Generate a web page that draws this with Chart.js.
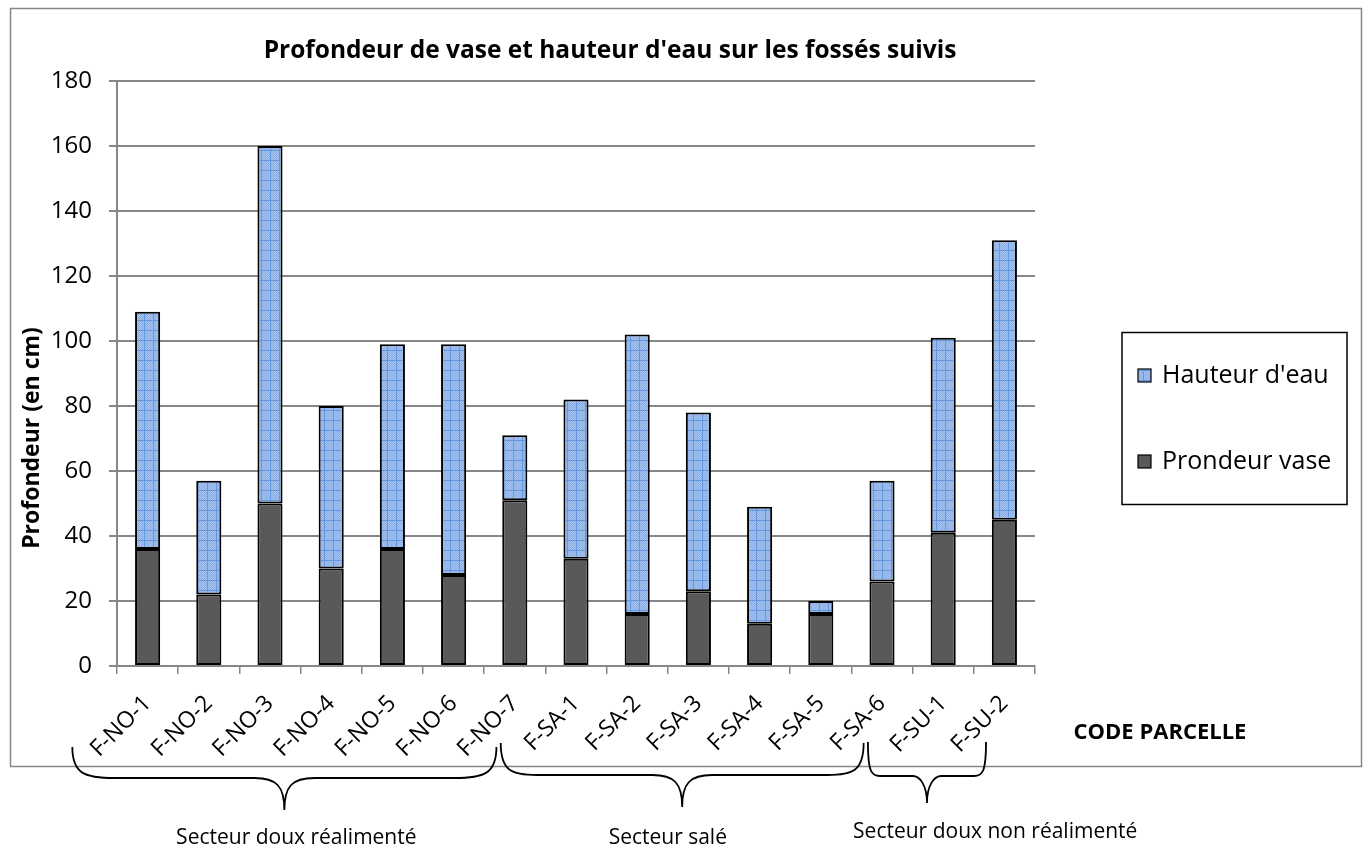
<!DOCTYPE html>
<html lang="fr">
<head>
<meta charset="utf-8">
<title>Profondeur de vase et hauteur d'eau</title>
<script src="https://cdn.jsdelivr.net/npm/chart.js@4.4.1/dist/chart.umd.min.js"></script>
<style>
  html, body { margin: 0; padding: 0; background: #ffffff; }
  #wrap { width: 1372px; height: 854px; position: relative; }
</style>
</head>
<body>
<div id="wrap"><canvas id="chart"></canvas></div>
<script>
// Fossés suivis (codes parcelle)
const categories = ['F-NO-1', 'F-NO-2', 'F-NO-3', 'F-NO-4', 'F-NO-5', 'F-NO-6', 'F-NO-7',
                    'F-SA-1', 'F-SA-2', 'F-SA-3', 'F-SA-4', 'F-SA-5', 'F-SA-6',
                    'F-SU-1', 'F-SU-2'];
// Profondeur de vase (cm)
const vaseDepth = [36, 22, 50, 30, 36, 28, 51, 33, 16, 23, 13, 16, 26, 41, 45];
// Hauteur d'eau au-dessus de la vase (cm)
const waterHeight = [73, 35, 110, 50, 63, 71, 20, 49, 86, 55, 36, 4, 31, 60, 86];
// Axe des profondeurs
const yMin = 0, yMax = 180, yStep = 20;
// Secteurs regroupant les fossés
const sectorNames = ['Secteur doux réalimenté', 'Secteur salé', 'Secteur doux non réalimenté'];
const sectorFirst = [0, 7, 13];
const sectorLast = [6, 12, 14];

const FONT = '"Open Sans", "DejaVu Sans", sans-serif';
const GRID = '#878787';

// Motif quadrillé bleu pour la hauteur d'eau
function makeWaterPattern() {
  const c = document.createElement('canvas');
  c.width = 9; c.height = 10;
  const g = c.getContext('2d');
  g.fillStyle = '#a3c2ed';
  g.fillRect(0, 0, 9, 10);
  g.fillStyle = '#8cb0e6';
  for (let y = 0; y < 10; y++) for (let x = 0; x < 9; x++) if ((x + y) % 2 === 0) g.fillRect(x, y, 1, 1);
  g.fillStyle = '#6497df';
  g.fillRect(0, 0, 9, 1);
  g.fillRect(0, 0, 1, 10);
  return g.createPattern(c, 'repeat');
}
const waterFill = makeWaterPattern();

// Accolade horizontale pointant vers le bas
function drawBrace(ctx, x1, x2, yTop, yMid, yTip) {
  const w = x2 - x1;
  const r = Math.max(12, w * 0.1);
  const xm = (x1 + x2) / 2;
  const t = Math.min(30, w * 0.12);
  ctx.beginPath();
  ctx.moveTo(x1, yTop);
  ctx.bezierCurveTo(x1, yMid - 4, x1 + r * 0.3, yMid, x1 + r, yMid);
  ctx.lineTo(xm - t, yMid);
  ctx.bezierCurveTo(xm - 8, yMid, xm, yMid + 8, xm, yTip);
  ctx.bezierCurveTo(xm, yMid + 8, xm + 8, yMid, xm + t, yMid);
  ctx.lineTo(x2 - r, yMid);
  ctx.bezierCurveTo(x2 - r * 0.3, yMid, x2, yMid - 4, x2, yTop);
  ctx.stroke();
}

const decorations = {
  id: 'decorations',
  beforeDraw(chart) {
    const ctx = chart.ctx;
    ctx.save();
    ctx.fillStyle = '#ffffff';
    ctx.fillRect(0, 0, chart.width, chart.height);
    ctx.strokeStyle = GRID;
    ctx.lineWidth = 1.5;
    ctx.strokeRect(10.5, 8.5, 1351, 758);
    ctx.restore();
  },
  afterDraw(chart) {
    const ctx = chart.ctx;
    const xs = chart.scales.x;
    ctx.save();
    ctx.fillStyle = '#000';
    ctx.textAlign = 'center';
    ctx.textBaseline = 'middle';

    // Titre
    ctx.font = 'bold 24.5px ' + FONT;
    ctx.fillText("Profondeur de vase et hauteur d'eau sur les fossés suivis", 610, 51);

    // Titre de l'axe vertical
    ctx.save();
    ctx.translate(32, 438);
    ctx.rotate(-Math.PI / 2);
    ctx.font = 'bold 23px ' + FONT;
    ctx.fillText('Profondeur (en cm)', 0, 0);
    ctx.restore();

    // Titre de l'axe horizontal
    ctx.font = 'bold 22px ' + FONT;
    ctx.fillText('CODE PARCELLE', 1160, 733);

    // Accolades des secteurs
    ctx.strokeStyle = '#000';
    ctx.lineWidth = 1.8;
    const braceTop = [747, 743, 742];
    const braceMid = [778, 775, 776];
    const braceTip = [810, 807, 803];
    const labelAt = [2.43, 8.5, 13.85];
    const labelY = [838, 838, 832];
    ctx.font = '21px ' + FONT;
    for (let i = 0; i < sectorNames.length; i++) {
      const x1 = xs.getPixelForValue(sectorFirst[i] - 1.23);
      const x2 = xs.getPixelForValue(sectorLast[i] - 0.3);
      drawBrace(ctx, x1, x2, braceTop[i], braceMid[i], braceTip[i]);
      ctx.fillText(sectorNames[i], xs.getPixelForValue(labelAt[i]), labelY[i]);
    }

    // Légende
    ctx.lineWidth = 1.5;
    ctx.strokeStyle = '#000';
    ctx.strokeRect(1122, 332.5, 225, 172);
    const items = [chart.data.datasets[1], chart.data.datasets[0]];
    const itemY = [375.5, 461.5];
    ctx.textAlign = 'left';
    ctx.font = '25px ' + FONT;
    items.forEach((ds, k) => {
      ctx.fillStyle = ds.backgroundColor;
      ctx.fillRect(1138, itemY[k] - 6.5, 13, 13);
      ctx.lineWidth = 1.2;
      ctx.strokeRect(1138, itemY[k] - 6.5, 13, 13);
      ctx.fillStyle = '#000';
      ctx.fillText(ds.label, 1162, itemY[k]);
    });
    ctx.restore();
  }
};

new Chart(document.getElementById('chart'), {
  type: 'bar',
  data: {
    labels: categories,
    datasets: [
      {
        label: 'Prondeur vase',
        data: vaseDepth,
        backgroundColor: '#595959',
        borderColor: '#000000',
        borderWidth: 2,
        borderSkipped: false,
        barPercentage: 0.41,
        categoryPercentage: 1
      },
      {
        label: "Hauteur d'eau",
        data: waterHeight,
        backgroundColor: waterFill,
        borderColor: '#000000',
        borderWidth: 2,
        borderSkipped: false,
        barPercentage: 0.41,
        categoryPercentage: 1
      }
    ]
  },
  options: {
    responsive: true,
    maintainAspectRatio: false,
    animation: false,
    events: [],
    layout: { padding: { left: 12, right: 337, top: 81, bottom: 88 } },
    plugins: {
      legend: { display: false },
      title: { display: false },
      tooltip: { enabled: false }
    },
    scales: {
      x: {
        stacked: true,
        afterFit(scale) { scale.height = 100; },
        grid: {
          offset: true,
          drawOnChartArea: false,
          drawTicks: true,
          tickLength: 8,
          color: GRID,
          lineWidth: 1.5
        },
        border: { display: true, color: GRID, width: 2 },
        ticks: {
          minRotation: 45,
          maxRotation: 45,
          autoSkip: false,
          padding: 16,
          color: '#000',
          font: { family: FONT, size: 23 }
        }
      },
      y: {
        stacked: true,
        min: yMin,
        max: yMax,
        afterFit(scale) { scale.width = 105; },
        grid: {
          color: GRID,
          lineWidth: 2,
          drawTicks: true,
          tickLength: 8
        },
        border: { display: true, color: GRID, width: 2 },
        ticks: {
          stepSize: yStep,
          padding: 17,
          color: '#000',
          font: { family: FONT, size: 24 }
        }
      }
    }
  },
  plugins: [decorations]
});
</script>
</body>
</html>
